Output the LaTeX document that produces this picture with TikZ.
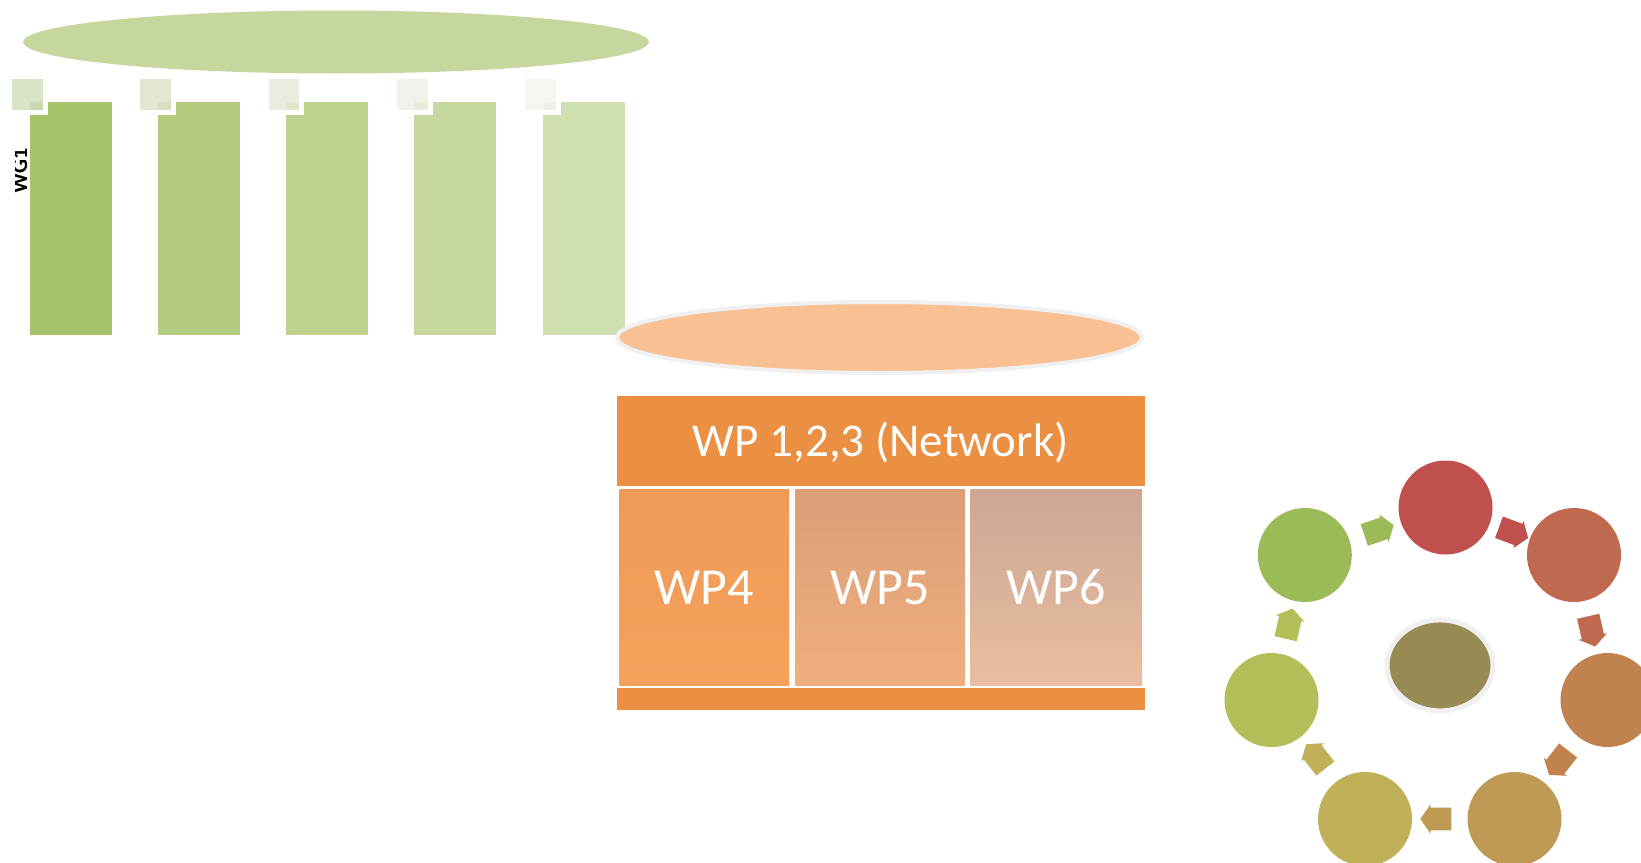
\documentclass[tikz,border=0pt]{standalone}
\usepackage{fontspec}
\setmainfont{Carlito}
\usetikzlibrary{shapes.arrows}

\definecolor{topell}{HTML}{C5D79C}
\definecolor{barA}{HTML}{A7C36A}
\definecolor{barB}{HTML}{B4CC7D}
\definecolor{barC}{HTML}{BDD28C}
\definecolor{barD}{HTML}{C6D89E}
\definecolor{barE}{HTML}{CFDFAF}
\definecolor{sqA}{RGB}{209,222,190}
\definecolor{sqB}{RGB}{219,228,203}
\definecolor{sqC}{RGB}{228,235,217}
\definecolor{sqD}{RGB}{236,241,229}
\definecolor{sqE}{RGB}{242,246,237}
\definecolor{netell}{HTML}{F9C193}
\definecolor{ring}{HTML}{F0F0F0}
\definecolor{netbar}{HTML}{EB8F43}
\definecolor{wpAtop}{HTML}{EF9A56}
\definecolor{wpAbot}{HTML}{F5A05B}
\definecolor{wpBtop}{HTML}{DB9E77}
\definecolor{wpBbot}{HTML}{EFAF7E}
\definecolor{wpCtop}{HTML}{CBA794}
\definecolor{wpCbot}{HTML}{E9BE9F}
\definecolor{cTop}{HTML}{C0504D}
\definecolor{cUpr}{HTML}{BF6A4E}
\definecolor{cRight}{HTML}{C0834F}
\definecolor{cLowr}{HTML}{BF9A55}
\definecolor{cLowl}{HTML}{C0B057}
\definecolor{cLeft}{HTML}{B3BE58}
\definecolor{cUpl}{HTML}{9BBB59}
\definecolor{cCore}{HTML}{978A52}

\tikzset{
	wptext/.style={text=white, inner sep=0pt, anchor=base},
	cyc/.style={circle, fill=#1, minimum size=47pt, inner sep=0pt},
	cycarrow/.style={single arrow, fill=#1, sloped, allow upside down, minimum height=15.5pt, inner sep=5.5pt, single arrow head extend=1.6pt, single arrow tip angle=110}
}

\begin{document}
\begin{tikzpicture}[x=0.5pt, y=-0.5pt]
		\useasboundingbox (0,0) rectangle (1641,862);
		
		\fill[topell] (336,42) ellipse [x radius=313, y radius=31.5]; % Top ellipse
		
		\foreach \i/\bc/\sc in {0/barA/sqA, 1/barB/sqB, 2/barC/sqC, 3/barD/sqD, 4/barE/sqE} {
			\fill[\bc] ({29.5+128.3*\i}, 102.3) rectangle ++(82, 233); % Bars
			\draw[white, line width=2.5pt] ({9.5+128.3*\i}, 76.8) rectangle ++(35.7, 35.7);
			\fill[\sc, fill opacity=0.85] ({12+128.3*\i}, 79.3) rectangle ++(30.7, 30.7); % Small squares
		}
		
		\begin{scope}
			\clip (15,100) rectangle (30,200);
			\node[rotate=90, anchor=base, font=\bfseries\fontsize{11}{11}\selectfont] (wg) at (27,171) {WG1};
		\end{scope}
		
		\draw[ring, line width=2pt, fill=netell] (879.5,337.5) ellipse [x radius=262.5, y radius=35.5]; % Orange ellipse
		
		\fill[netbar] (616.5,395.6) rectangle (1145,485.6); % Network
		\node[wptext, font=\fontsize{23.5}{24}\selectfont] (net) at (880.7,456) {WP 1,2,3 (Network)};
		
		\path[top color=wpAtop, bottom color=wpAbot] (619.6,489.8) rectangle (789,685.5);
		\path[top color=wpBtop, bottom color=wpBbot] (795.4,489.8) rectangle (965,685.5);
		\path[top color=wpCtop, bottom color=wpCbot] (970.5,489.8) rectangle (1142,685.5);
		\node[wptext, font=\fontsize{26}{26}\selectfont] (wp4) at (704.3,604.3) {WP4};
		\node[wptext, font=\fontsize{26}{26}\selectfont] (wp5) at (880.2,604.3) {WP5};
		\node[wptext, font=\fontsize{26}{26}\selectfont] (wp6) at (1056.2,604.3) {WP6};
		
		\fill[netbar] (616.5,687.6) rectangle (1145,709.6); % Bottom bar
		
		\node[cyc=cTop] (ctop) at (1445.5,507.5) {}; % Cycle
		\node[cyc=cUpr] (cupr) at (1574,555) {};
		\node[cyc=cRight] (cright) at (1607.5,700) {};
		\node[cyc=cLowr] (clowr) at (1514.5,819) {};
		\node[cyc=cLowl] (clowl) at (1365,819) {};
		\node[cyc=cLeft] (cleft) at (1271.5,700) {};
		\node[cyc=cUpl] (cupl) at (1304.8,555) {};
		\draw[ring, line width=2.5pt, fill=cCore] (1440,665.4) ellipse [x radius=53, y radius=45.5];
		
		\path (cupl) -- node[cycarrow=cUpl] {} (ctop);
		\path (ctop) -- node[cycarrow=cTop] {} (cupr);
		\path (cupr) -- node[cycarrow=cUpr] {} (cright);
		\path (cright) -- node[cycarrow=cRight] {} (clowr);
		\path (clowr) -- node[cycarrow=cLowr] {} (clowl);
		\path (clowl) -- node[cycarrow=cLowl] {} (cleft);
		\path (cleft) -- node[cycarrow=cLeft] {} (cupl);
	\end{tikzpicture}
\end{document}
